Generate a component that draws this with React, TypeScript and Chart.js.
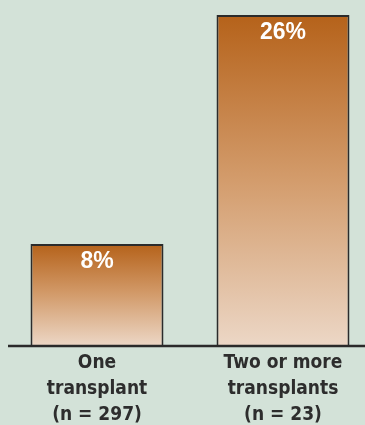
import React, { useEffect, useRef } from "react";
import { Chart, registerables } from "chart.js";

Chart.register(...registerables);

const categories: string[][] = [
  ["One", "transplant", "(n = 297)"],
  ["Two or more", "transplants", "(n = 23)"],
];
const values: number[] = [8, 26];
const valueLabels: string[] = ["8%", "26%"];

const BG = "#d3e2d8";
const TOP = "#b5621a";
const MID = "#d39c6c";
const BOTTOM = "#ecd7c6";

export default function App() {
  const ref = useRef<HTMLCanvasElement | null>(null);

  useEffect(() => {
    document.body.style.margin = "0";
    document.body.style.background = BG;
    const canvas = ref.current!;
    const valuePlugin = {
      id: "valueLabels",
      afterDatasetsDraw(chart: any) {
        const ctx = chart.ctx;
        const meta = chart.getDatasetMeta(0);
        ctx.save();
        ctx.fillStyle = "#ffffff";
        ctx.font = "bold 23px 'Liberation Sans', Arial, sans-serif";
        ctx.textAlign = "center";
        ctx.textBaseline = "middle";
        meta.data.forEach((el: any, i: number) => {
          ctx.fillText(valueLabels[i], el.x, el.y + 18);
        });
        // baseline
        ctx.strokeStyle = "#2a2a2a";
        ctx.lineWidth = 2.5;
        ctx.beginPath();
        ctx.moveTo(4, chart.chartArea.bottom);
        ctx.lineTo(chart.width, chart.chartArea.bottom);
        ctx.stroke();
        ctx.restore();
      },
    };
    const chart = new Chart(canvas, {
      type: "bar",
      data: {
        labels: categories,
        datasets: [
          {
            data: values,
            backgroundColor: (c: any) => {
              const ch = c.chart;
              const area = ch.chartArea;
              if (!area || c.raw === undefined) return TOP;
              const yTop = ch.scales.y.getPixelForValue(c.raw);
              const g = ch.ctx.createLinearGradient(0, yTop, 0, area.bottom);
              g.addColorStop(0, TOP);
              g.addColorStop(0.5, MID);
              g.addColorStop(1, BOTTOM);
              return g;
            },
            borderColor: "#2b2b2b",
            borderWidth: 2,
            categoryPercentage: 1,
            barPercentage: 0.715,
          },
        ],
      },
      options: {
        responsive: false,
        animation: false,
        layout: { padding: { top: 15, left: 0, right: 0, bottom: -7 } },
        plugins: { legend: { display: false }, tooltip: { enabled: false } },
        scales: {
          x: {
            grid: { display: false, drawTicks: false },
            border: { display: false },
            ticks: {
              color: "#2d2d2d",
              padding: 4,
              maxRotation: 0,
              autoSkip: false,
              font: {
                family: "'DejaVu Sans Condensed', 'DejaVu Sans', sans-serif",
                weight: "bold",
                size: 19,
                lineHeight: 1.37,
              },
            },
          },
          y: {
            display: false,
            min: 0,
            max: 26,
          },
        },
      },
      plugins: [valuePlugin],
    });
    return () => chart.destroy();
  }, []);

  return (
    <div
      style={{
        position: "relative",
        width: 365,
        height: 425,
        overflow: "hidden",
        background: BG,
      }}
    >
      <canvas
        ref={ref}
        width={372}
        height={425}
        style={{ position: "absolute", left: 4, top: 0, width: 372, height: 425 }}
      />
    </div>
  );
}
